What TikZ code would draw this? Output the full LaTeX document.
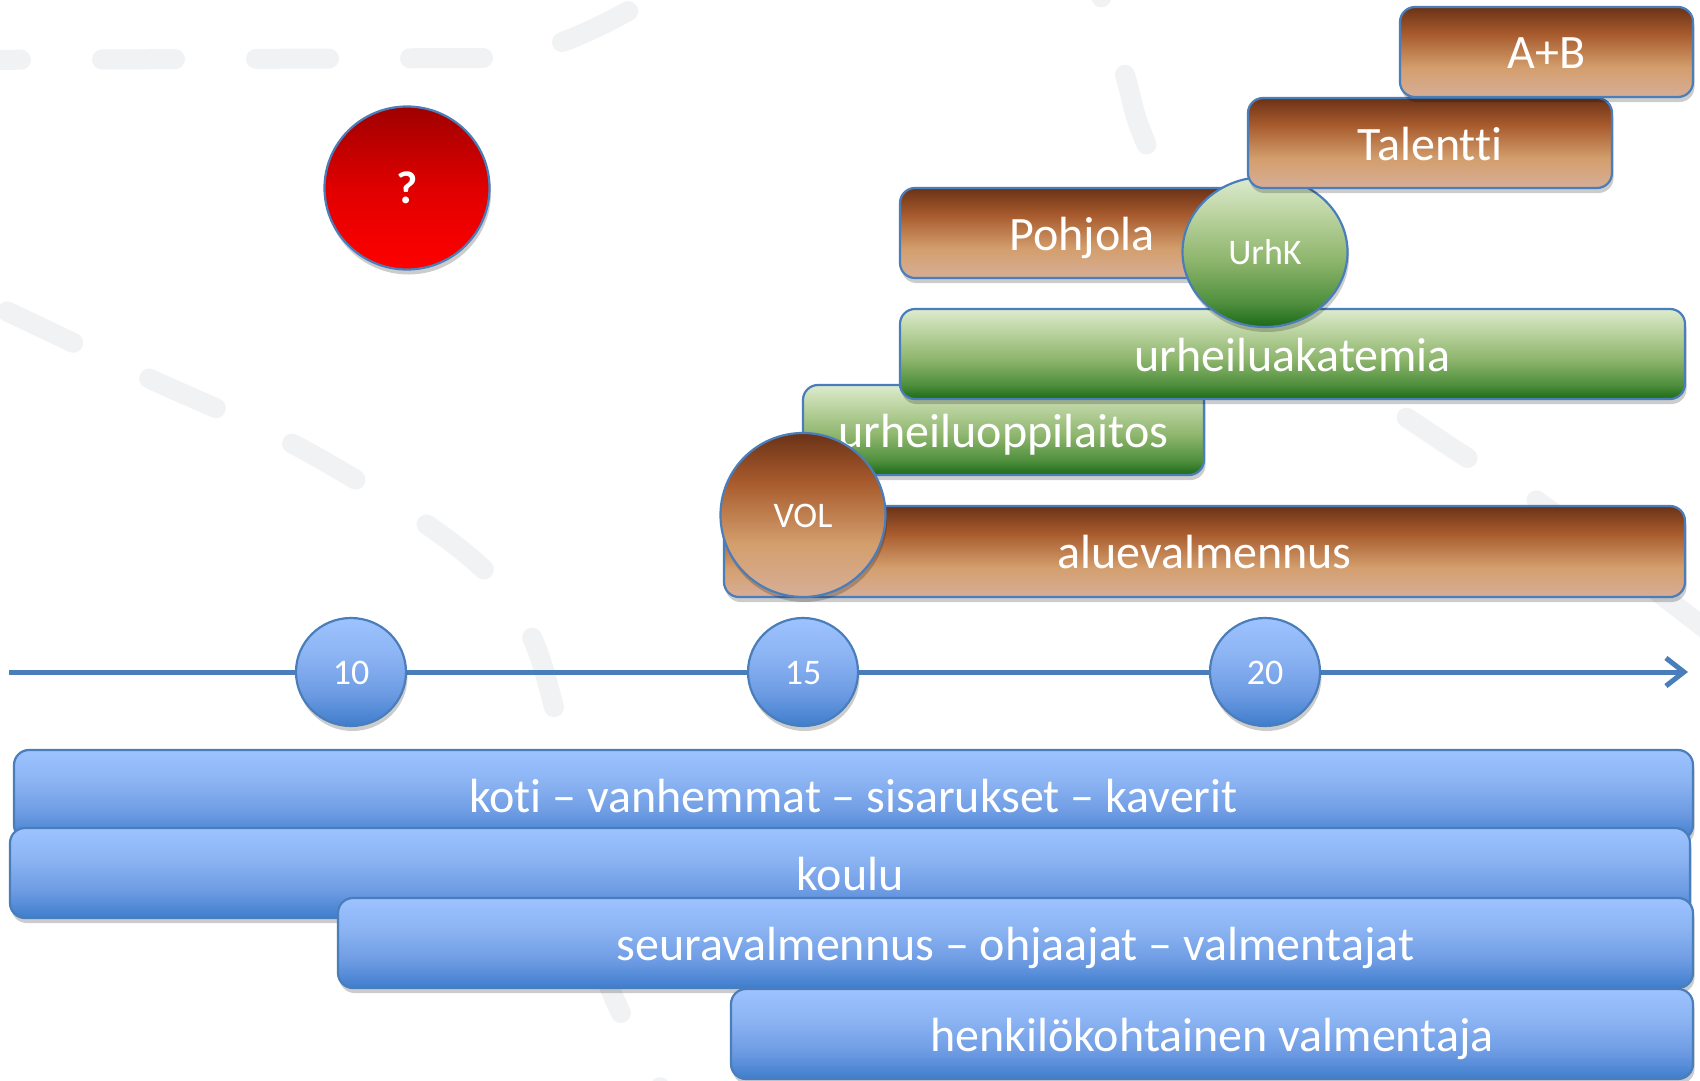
\documentclass[tikz,border=0pt]{standalone}
\usepackage{fontspec}
\setmainfont{Carlito}[Ligatures={NoCommon}]
\usetikzlibrary{shadows,arrows.meta,shapes.geometric}
\definecolor{bord}{HTML}{4A7EBB}
\definecolor{bgc}{HTML}{F1F2F4}
\definecolor{brA}{HTML}{D6AE97}
\definecolor{brB}{HTML}{D49F6E}
\definecolor{brC}{HTML}{A85B2D}
\definecolor{brD}{HTML}{6A3217}
\definecolor{grA}{HTML}{1B6A16}
\definecolor{grB}{HTML}{4F8F3E}
\definecolor{grC}{HTML}{8DB56C}
\definecolor{grD}{HTML}{B9D29E}
\definecolor{grE}{HTML}{DDEBCE}
\definecolor{blA}{HTML}{3F7DCC}
\definecolor{blB}{HTML}{6D9BE3}
\definecolor{blC}{HTML}{8CB4F3}
\definecolor{blD}{HTML}{9DC3FF}
\definecolor{rdA}{HTML}{FF0000}
\definecolor{rdB}{HTML}{E00000}
\definecolor{rdC}{HTML}{9F0000}
\pgfdeclareverticalshading{brownsh}{100bp}{color(0bp)=(brA); color(25bp)=(brA); color(41bp)=(brB); color(60bp)=(brC); color(75bp)=(brD); color(100bp)=(brD)}
\pgfdeclareverticalshading{greensh}{100bp}{color(0bp)=(grA); color(25bp)=(grA); color(33bp)=(grB); color(47bp)=(grC); color(62bp)=(grD); color(75bp)=(grE); color(100bp)=(grE)}
\pgfdeclareverticalshading{bluesh}{100bp}{color(0bp)=(blA); color(25bp)=(blA); color(40bp)=(blB); color(58bp)=(blC); color(75bp)=(blD); color(100bp)=(blD)}
\pgfdeclareverticalshading{redsh}{100bp}{color(0bp)=(rdA); color(25bp)=(rdA); color(50bp)=(rdB); color(75bp)=(rdC); color(100bp)=(rdC)}
\tikzset{
  bgline/.style={draw=bgc, line width=20pt, line cap=round, dash pattern=on 73pt off 81pt},
  shad/.style={drop shadow={shadow xshift=1.5pt, shadow yshift=-5pt, opacity=0.2, fill=black}},
  box/.style={shape=rectangle, draw=bord, line width=2.2pt, rounded corners=15pt, inner sep=0pt,
    text=white, font=\fontsize{48}{56}\selectfont, text height=34pt, text depth=0pt, shad, shade},
  brownbox/.style={box, shading=brownsh},
  greenbox/.style={box, shading=greensh},
  bluebox/.style={box, shading=bluesh},
  ball/.style={shape=ellipse, draw=bord, line width=2.2pt, inner sep=0pt,
    text=white, font=\fontsize{36}{40}\selectfont, text height=25pt, text depth=0pt, shad, shade},
  axisline/.style={draw=bord, line width=5pt, -{Straight Barb[length=18pt,width=28pt]}},
}
\begin{document}
\begin{tikzpicture}[x=1pt,y=1pt]
\useasboundingbox (0,0) rectangle (1700,-1081);
\fill[white] (0,0) rectangle (1700,-1081);
% background dashed curves
\draw[bgline] (-52,-60) -- (480,-58) .. controls (545,-57) and (600,-30) .. (690,25);
\draw[bgline, dash pattern=on 73pt off 84pt, dash phase=149pt] plot[smooth, tension=0.5] coordinates {(0,-308) (148,-378) (293,-444) (423,-522) (494,-580) (538,-652) (575,-800) (603,-968) (655,-1078) (680,-1115)};
\draw[bgline, dash phase=34pt] plot[smooth, tension=0.55] coordinates {(1090,40) (1125,-75) (1143,-136) (1200,-260) (1300,-350) (1404,-416) (1466,-457) (1540,-503) (1720,-640)};
% bottom blue bands
\node[bluebox, minimum width=1679pt, minimum height=90pt] (koti) at (853.5,-795) {koti – vanhemmat – sisarukset – kaverit};
\node[bluebox, minimum width=1680pt, minimum height=90pt] (koulu) at (850,-873) {koulu};
\node[bluebox, minimum width=1355pt, minimum height=90pt] (seura) at (1015.5,-943) {seuravalmennus – ohjaajat – valmentajat};
\node[bluebox, minimum width=962pt, minimum height=90pt] (henk) at (1212,-1034) {henkilökohtainen valmentaja};
% axis
\coordinate (axs) at (9,-672);
\coordinate (axe) at (1688,-672);
\draw[axisline] (axs) -- (axe);
\node[ball, shading=bluesh, minimum width=110pt, minimum height=108pt] (a10) at (351,-672) {10};
\node[ball, shading=bluesh, minimum width=110pt, minimum height=108pt] (a15) at (803,-672) {15};
\node[ball, shading=bluesh, minimum width=110pt, minimum height=108pt] (a20) at (1265,-672) {20};
% upper bars
\node[greenbox, minimum width=401pt, minimum height=90pt] (opp) at (1003.5,-430) {urheiluoppilaitos};
\node[brownbox, minimum width=961pt, minimum height=91pt] (alue) at (1204.5,-551.5) {aluevalmennus};
\node[ball, shading=brownsh, minimum width=165pt, minimum height=164pt] (vol) at (803,-515) {VOL};
\node[greenbox, minimum width=785pt, minimum height=90pt] (aka) at (1292.5,-354) {urheiluakatemia};
\node[brownbox, minimum width=364pt, minimum height=90pt] (poh) at (1082,-233) {Pohjola};
\node[ball, shading=greensh, minimum width=165pt, minimum height=150pt] (urhk) at (1265,-252) {UrhK};
\node[brownbox, minimum width=364pt, minimum height=90pt] (tal) at (1430,-143) {Talentti};
\node[brownbox, minimum width=293pt, minimum height=90pt] (ab) at (1546.5,-52) {A+B};
% question ball
\node[ball, shading=redsh, minimum width=165pt, minimum height=163pt, font=\bfseries\fontsize{46}{50}\selectfont, text height=30pt] (q) at (407,-188) {?};
\end{tikzpicture}
\end{document}
